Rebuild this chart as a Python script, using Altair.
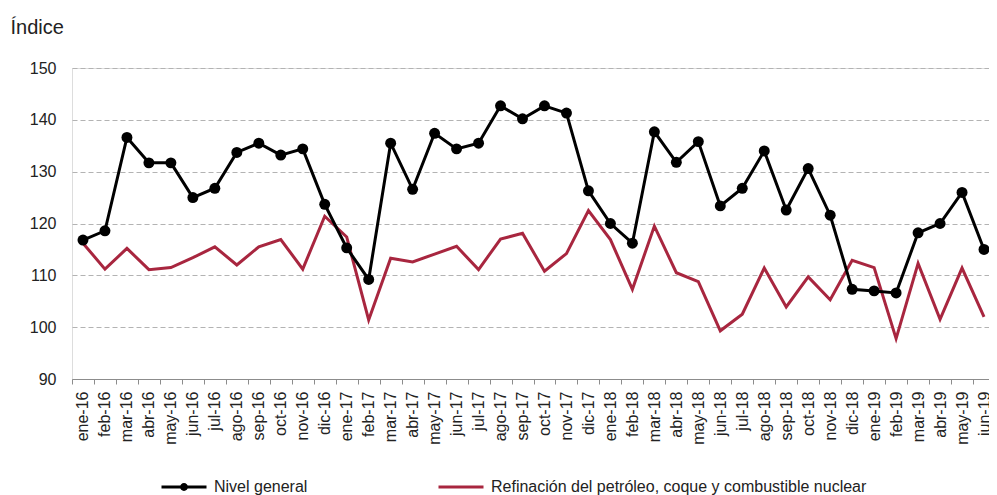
import altair as alt
import pandas as pd

months = ["ene-16","feb-16","mar-16","abr-16","may-16","jun-16","jul-16","ago-16","sep-16","oct-16","nov-16","dic-16",
          "ene-17","feb-17","mar-17","abr-17","may-17","jun-17","jul-17","ago-17","sep-17","oct-17","nov-17","dic-17",
          "ene-18","feb-18","mar-18","abr-18","may-18","jun-18","jul-18","ago-18","sep-18","oct-18","nov-18","dic-18",
          "ene-19","feb-19","mar-19","abr-19","may-19","jun-19"]

nivel_general = [116.8, 118.6, 136.6, 131.7, 131.7, 125.0, 126.8, 133.7, 135.5, 133.2, 134.4, 123.7,
                 115.3, 109.2, 135.5, 126.6, 137.4, 134.4, 135.5, 142.7, 140.2, 142.7, 141.3, 126.3,
                 120.0, 116.2, 137.7, 131.8, 135.8, 123.4, 126.8, 134.0, 122.6, 130.6, 121.6, 107.3,
                 107.0, 106.6, 118.2, 120.0, 126.0, 115.0]

refinacion = [116.2, 111.2, 115.2, 111.1, 111.5, 113.4, 115.5, 112.0, 115.5, 116.9, 111.2, 121.4,
              117.4, 101.4, 113.3, 112.6, 114.1, 115.6, 111.1, 117.0, 118.1, 110.8, 114.2, 122.5,
              116.9, 107.3, 119.5, 110.5, 108.8, 99.3, 102.5, 111.4, 103.9, 109.7, 105.3, 112.9,
              111.5, 97.8, 112.3, 101.5, 111.4, 102.0]

series_names = ["Nivel general", "Refinación del petróleo, coque y combustible nuclear"]
series_colors = ["#000000", "#A8263F"]

df = pd.DataFrame({
    "mes": months * 2,
    "valor": nivel_general + refinacion,
    "serie": [series_names[0]] * len(months) + [series_names[1]] * len(months),
})

FONT = "Liberation Sans"

line_symbol = "M-1,0L1,0M0.11,0A0.11,0.11,0,1,1,-0.11,0A0.11,0.11,0,1,1,0.11,0"

x_enc = alt.X("mes:N", sort=months, bandPosition=0.5,
              scale=alt.Scale(type="band", paddingInner=0, paddingOuter=0),
              axis=alt.Axis(title=None, labelAngle=270, labelAlign="right", labelBaseline="middle",
                            tickBand="extent", tickSize=5, tickColor="#8c8c8c", domainColor="#8c8c8c",
                            labelPadding=7, labelFontSize=16, labelColor="#222222", labelFont=FONT,
                            grid=False))

y_enc = alt.Y("valor:Q", scale=alt.Scale(domain=[90, 150], nice=False, zero=False),
              axis=alt.Axis(values=[90, 100, 110, 120, 130, 140, 150], title="Índice", titleAngle=0,
                            titleX=-62, titleY=-35, titleAlign="left", titleBaseline="alphabetic",
                            titleFontSize=20, titleFontWeight="normal", titleFont=FONT, titleColor="#222222",
                            labelFontSize=16, labelFont=FONT, labelColor="#222222", labelPadding=16,
                            domain=False, ticks=False, grid=True, gridDash=[5, 3], gridColor="#b3b3b3",
                            gridWidth=1.2))


def legend_at(x, symbol):
    return alt.Legend(title=None, orient="none", legendX=x, legendY=395,
                      direction="horizontal", symbolType=symbol, symbolSize=2025, symbolStrokeWidth=3,
                      labelFontSize=16, labelFont=FONT, labelColor="#222222",
                      labelLimit=600, labelOffset=6, padding=0)


base = alt.Chart(df)

black = base.transform_filter(alt.datum.serie == series_names[0]).mark_line(
    strokeWidth=3, point=alt.OverlayMarkDef(filled=True, size=120, opacity=1)
).encode(
    x=x_enc, y=y_enc,
    color=alt.Color("serie:N", scale=alt.Scale(domain=[series_names[0]], range=[series_colors[0]]),
                    legend=legend_at(88, line_symbol)),
)

red = base.transform_filter(alt.datum.serie == series_names[1]).mark_line(strokeWidth=3).encode(
    x=x_enc, y=y_enc,
    color=alt.Color("serie:N", scale=alt.Scale(domain=[series_names[1]], range=[series_colors[1]]),
                    legend=legend_at(365, "stroke")),
)

chart = alt.layer(red, black).resolve_scale(color="independent").properties(
    width=923, height=311,
    autosize=alt.AutoSizeParams(type="none"),
    padding={"left": 64, "top": 60, "right": -6, "bottom": 116},
).configure_view(stroke=None).configure(background="white")

chart.save("out.html", embed_options={"renderer": "svg", "actions": False})
